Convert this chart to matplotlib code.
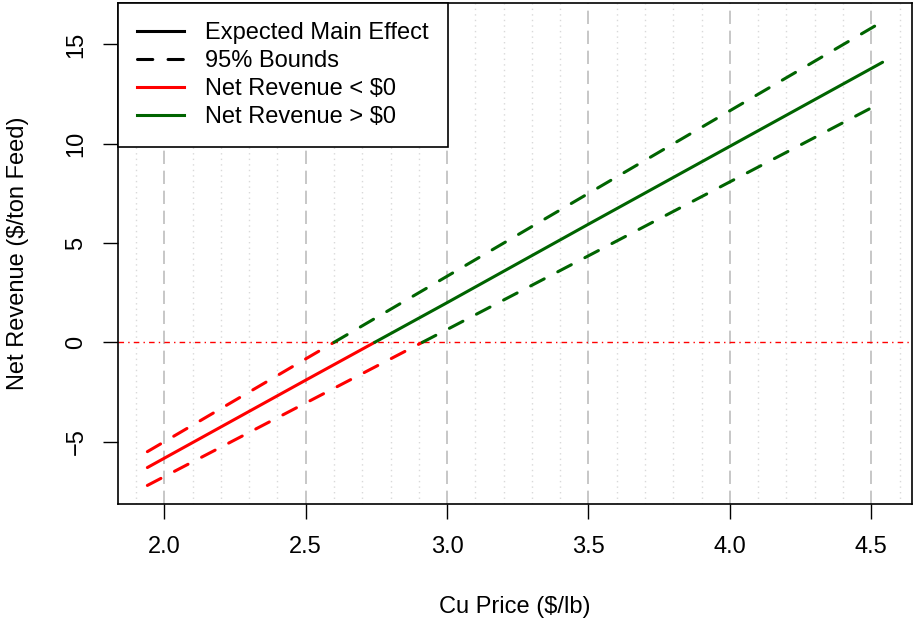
import matplotlib.pyplot as plt
import numpy as np

plt.rcParams['font.family'] = ['Liberation Sans', 'DejaVu Sans']

# Cu price ($/lb) and net revenue ($/ton feed)
cu_price = [1.94, 2.5, 3.0, 3.5, 4.0, 4.54]
expected = [-6.3, -1.9, 2.0, 5.95, 9.87, 14.1]
upper = [-5.5, -0.83, 3.33, 7.5, 11.66, 16.15]
lower = [-7.2, -3.05, 0.65, 4.36, 8.08, 12.1]

xmajor = [2.0, 2.5, 3.0, 3.5, 4.0, 4.5]
xminor = [1.9, 2.1, 2.2, 2.3, 2.4, 2.6, 2.7, 2.8, 2.9, 3.1, 3.2, 3.3, 3.4,
          3.6, 3.7, 3.8, 3.9, 4.1, 4.2, 4.3, 4.4, 4.6]
yticks = [-5, 0, 5, 10, 15]

RED = '#ff0000'
GREEN = '#006400'
FS = 17


def split_at_zero(x, y):
    # cut a line where it crosses 0 so it can be drawn in two colours
    x = np.asarray(x, float)
    y = np.asarray(y, float)
    x0 = np.interp(0, y, x)
    neg = y < 0
    xs_neg = np.append(x[neg], x0)
    ys_neg = np.append(y[neg], 0)
    xs_pos = np.insert(x[~neg], 0, x0)
    ys_pos = np.insert(y[~neg], 0, 0)
    return (xs_neg, ys_neg), (xs_pos, ys_pos)


fig = plt.figure(figsize=(9.13, 6.19), dpi=100)
ax = fig.add_axes([0.1292, 0.1858, 0.8697, 0.8094])

for xv in xminor:
    ax.axvline(xv, color='#d9d9d9', lw=1, ls=(0, (1, 3)), zorder=0)
for xv in xmajor:
    ax.axvline(xv, color='#bebebe', lw=1.2, ls=(0, (8, 4)), zorder=0)

ax.axhline(0, color=RED, lw=1, ls=(0, (4, 3, 1, 3)), zorder=1)

for ys, style in [(expected, '-'), (upper, (0, (5, 5))), (lower, (0, (5, 5)))]:
    (xn, yn), (xp, yp) = split_at_zero(cu_price, ys)
    ax.plot(xn, yn, color=RED, lw=2.2, ls=style, dash_capstyle='round',
            solid_capstyle='round', zorder=2)
    ax.plot(xp, yp, color=GREEN, lw=2.2, ls=style, dash_capstyle='round',
            solid_capstyle='round', zorder=2)

span = cu_price[-1] - cu_price[0]
ax.set_xlim(cu_price[0] - 0.04 * span, cu_price[-1] + 0.04 * span)
yall = lower + upper
yspan = max(yall) - min(yall)
ax.set_ylim(min(yall) - 0.04 * yspan, max(yall) + 0.04 * yspan)

ax.set_xticks(xmajor)
ax.set_xticklabels([f'{v:.1f}' for v in xmajor])
ax.set_yticks(yticks)
ax.set_yticklabels(['\u22125' if v < 0 else str(v) for v in yticks],
                   rotation=90, va='center')
ax.tick_params(labelsize=FS, length=10.8, width=1, direction='out', pad=12.5)
ax.tick_params(axis='y', pad=11.2)
for s in ax.spines.values():
    s.set_linewidth(1.2)

ax.set_xlabel('Cu Price ($/lb)', fontsize=FS, labelpad=27)
ax.set_ylabel('Net Revenue ($/ton Feed)', fontsize=FS, labelpad=26)

handles = [
    plt.Line2D([], [], color='black', lw=2.2),
    plt.Line2D([], [], color='black', lw=2.2, ls=(0, (5, 5)), dash_capstyle='round'),
    plt.Line2D([], [], color=RED, lw=2.2),
    plt.Line2D([], [], color=GREEN, lw=2.2),
]
labels = ['Expected Main Effect', '95% Bounds', 'Net Revenue < $0', 'Net Revenue > $0']
leg = ax.legend(handles, labels, loc='upper left', fontsize=FS, frameon=True,
                fancybox=False, edgecolor='black', framealpha=1,
                borderaxespad=0, handlelength=2.0, handletextpad=0.9,
                labelspacing=0.26, borderpad=0.8)
leg.get_frame().set_linewidth(1.2)

fig.savefig('out.png', dpi=100)
